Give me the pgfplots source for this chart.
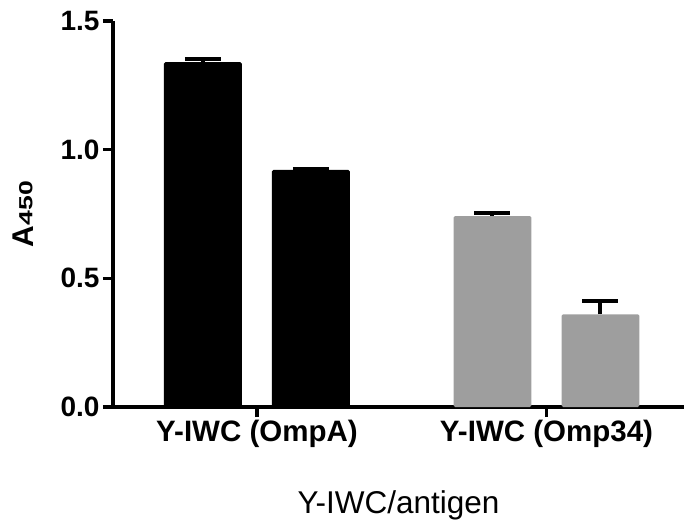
\documentclass[border=0pt]{standalone}
\usepackage{pgfplots}
\pgfplotsset{compat=1.18}
\usepackage{fontspec}
\setmainfont{Liberation Sans}
\definecolor{barGray}{RGB}{158,158,158}

\begin{document}
\begin{tikzpicture}
\path[use as bounding box] (-113pt,-115pt) rectangle (571pt,407pt);
\begin{axis}[
    at={(0pt,0pt)}, anchor=south west,
    scale only axis, width=571pt, height=386pt,
    xmin=-0.497, xmax=1.475, ymin=0, ymax=1.5,
    axis lines*=left,
    axis line style={line width=3.5pt},
    tick align=outside, major tick length=10pt,
    tick style={line width=3.5pt, black},
    xtick={0,1}, xticklabels={Y-IWC (OmpA), Y-IWC (Omp34)},
    ytick={0,0.5,1,1.5},
    /pgf/number format/assume math mode=true,
    yticklabel={\pgfmathprintnumber[fixed, fixed zerofill, precision=1]{\tick}},
    yticklabel style={font=\fontsize{28}{30}\selectfont\bfseries},
    xticklabel style={font=\fontsize{29.5}{32}\selectfont\bfseries},
    xlabel={Y-IWC/antigen},
    xlabel style={font=\fontsize{31.5}{34}\selectfont, at={(axis description cs:0.5,0)}, anchor=base, yshift=-106pt},
    ylabel={A\raisebox{1.5pt}{\scalebox{1.4}[1]{\fontsize{19}{20}\selectfont 450}}},
    ylabel style={font=\fontsize{30}{32}\selectfont\bfseries, at={(axis description cs:-0.1751,0.5)}, anchor=north, inner sep=0pt},
    bar width=0.269,
    mybar/.style={ybar, draw=none, rounded corners=1.5pt,
        error bars/y dir=plus, error bars/y explicit,
        error bars/error bar style={line width=4pt, black, sharp corners},
        error bars/error mark options={line width=4pt, mark size=18pt, black, rotate=90}},
]
% Y-IWC (OmpA)
\addplot[mybar, fill=black] coordinates {(-0.1865,1.34) +- (0,0.012)};
\addplot[mybar, fill=black] coordinates {(0.1865,0.921) +- (0,0.004)};
% Y-IWC (Omp34)
\addplot[mybar, fill=barGray] coordinates {(0.8135,0.742) +- (0,0.011)};
\addplot[mybar, fill=barGray] coordinates {(1.1865,0.360) +- (0,0.051)};
\end{axis}
\end{tikzpicture}
\end{document}
